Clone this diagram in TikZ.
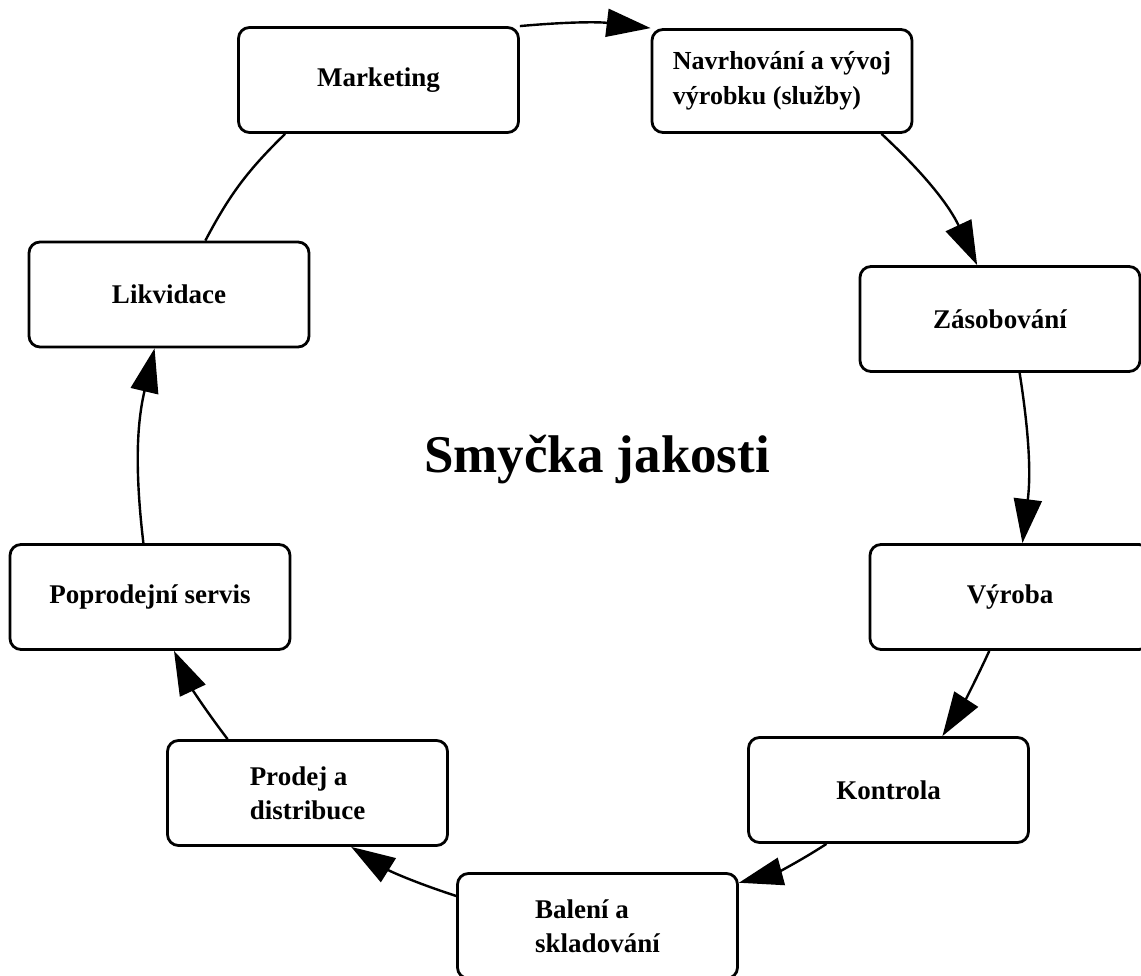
\documentclass[tikz,border=0pt]{standalone}
\usepackage{fontspec}
\setmainfont{Liberation Serif}
\usetikzlibrary{arrows.meta}
\begin{document}
\begin{tikzpicture}[x=1pt,y=1pt,
  box/.style={draw, line width=2.8pt, rounded corners=11pt, minimum width=280pt,
    minimum height=105pt, inner sep=0pt, font=\fontsize{27}{34}\selectfont\bfseries, align=left},
  conn/.style={line width=2.4pt, -{Triangle[length=44pt,width=28pt]}},
  link/.style={line width=2.4pt},
  title/.style={font=\fontsize{53}{60}\selectfont\bfseries, inner sep=0pt}]
\useasboundingbox (0,0) rectangle (1141,976);
\node[box] (mkt) at (378.5,896) {Marketing};
\node[box, minimum width=260pt, minimum height=103pt, font=\fontsize{26}{35}\selectfont\bfseries] (nav) at (782,895) {Navrhování a vývoj\\výrobku (služby)};
\node[box] (zas) at (1000,657) {Zásobování};
\node[box] (vyr) at (1010,379) {Výroba};
\node[box] (kon) at (888.5,186) {Kontrola};
\node[box] (bal) at (597.5,50) {Balení a\\skladování};
\node[box] (pro) at (307.5,183) {Prodej a\\distribuce};
\node[box] (pop) at (150,379) {Poprodejní servis};
\node[box] (lik) at (169,681.5) {Likvidace};
\node[title, anchor=base] (ttl) at (597,503) {Smyčka jakosti};
\draw[conn] (mkt.north east) to[bend left=6] (nav.north west);
\draw[conn] (nav.-28) to[bend left=11] (zas.113);
\draw[conn] (zas.-70) to[bend left=8] (vyr.77);
\draw[conn] (vyr.-111) to[bend left=4] (kon.45);
\draw[conn] (kon.-139) to[bend left=9] (bal.17);
\draw[conn] (bal.168) to[bend left=7] (pro.-51);
\draw[conn] (pro.146) to[bend left=6] (pop.-66);
\draw[conn] (pop.97) to[bend left=10] (lik.-105);
\draw[link] (lik.56) to[bend left=9] (mkt.-150);
\end{tikzpicture}
\end{document}
